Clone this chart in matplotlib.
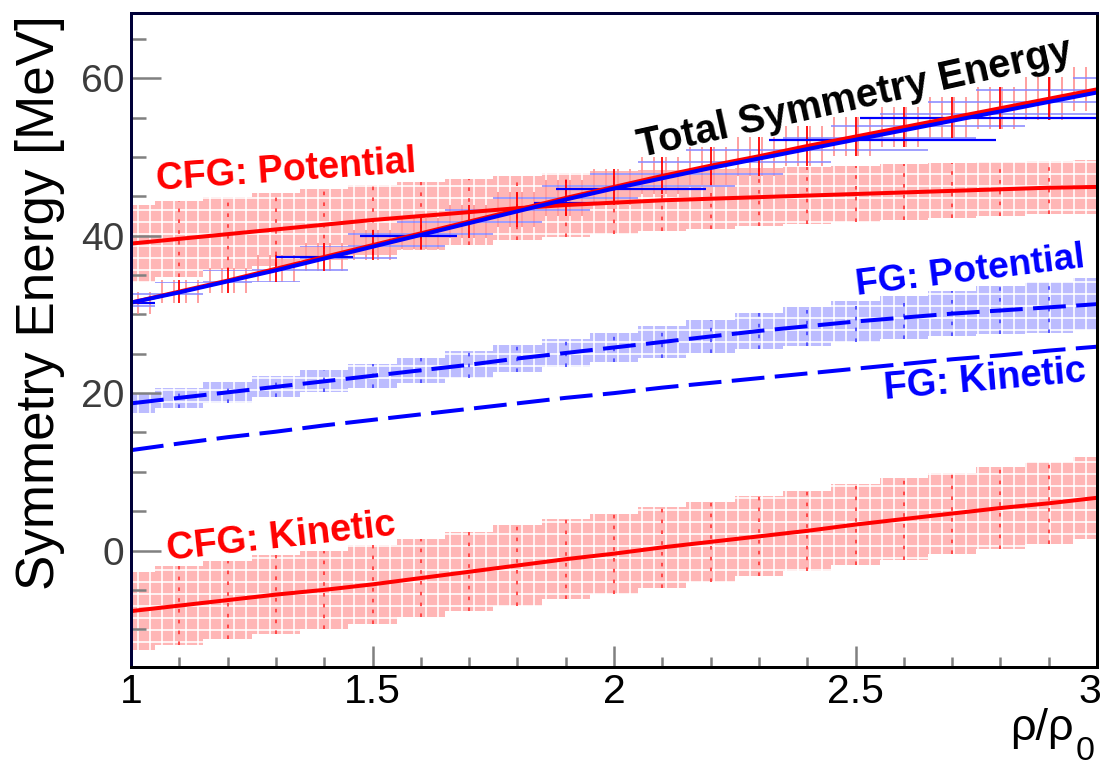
import matplotlib
matplotlib.use("Agg")
import numpy as np
import matplotlib.pyplot as plt
import matplotlib.transforms as mtransforms

plt.rcParams['font.family'] = ['Liberation Sans', 'DejaVu Sans']
plt.rcParams['hatch.linewidth'] = 1.6

# density grid (rho / rho_0)
density = [1.0, 1.1, 1.2, 1.3, 1.4, 1.5, 1.6, 1.7, 1.8, 1.9, 2.0,
           2.1, 2.2, 2.3, 2.4, 2.5, 2.6, 2.7, 2.8, 2.9, 3.0]

# correlated Fermi gas (CFG)
cfg_pot = [39.0, 39.6, 40.2, 40.8, 41.4, 42.0, 42.5, 43.0, 43.5, 43.9, 44.2,
           44.5, 44.7, 44.9, 45.1, 45.3, 45.5, 45.7, 45.9, 46.1, 46.2]
cfg_pot_err = [4.9, 4.8, 4.7, 4.6, 4.5, 4.4, 4.3, 4.2, 4.1, 4.05, 4.0,
               3.9, 3.8, 3.7, 3.65, 3.6, 3.55, 3.5, 3.45, 3.4, 3.4]
cfg_kin = [-7.7, -7.0, -6.3, -5.6, -5.0, -4.3, -3.5, -2.7, -1.9, -1.1, -0.4,
           0.4, 1.1, 1.8, 2.5, 3.3, 4.0, 4.7, 5.4, 6.0, 6.7]
cfg_kin_err = [5.0, 5.0, 5.0, 5.0, 5.0, 5.0, 5.0, 5.0, 5.1, 5.1, 5.1,
               5.1, 5.1, 5.1, 5.1, 5.2, 5.2, 5.2, 5.2, 5.2, 5.2]
cfg_total = [31.5, 32.9, 34.3, 35.8, 37.3, 38.8, 40.3, 41.8, 43.3, 44.8, 46.2,
             47.6, 48.9, 50.1, 51.4, 52.6, 53.8, 55.0, 56.2, 57.4, 58.6]
cfg_total_err = [1.4, 1.5, 1.6, 1.7, 1.8, 1.9, 2.0, 2.1, 2.2, 2.25, 2.3,
                 2.35, 2.4, 2.45, 2.5, 2.5, 2.55, 2.6, 2.7, 2.75, 2.8]

# free Fermi gas (FG)
fg_pot = [18.7, 19.4, 20.1, 20.8, 21.5, 22.2, 22.9, 23.6, 24.4, 25.1, 25.8,
          26.5, 27.2, 27.9, 28.5, 29.1, 29.6, 30.1, 30.5, 30.9, 31.3]
fg_pot_err = [1.2, 1.25, 1.3, 1.35, 1.4, 1.5, 1.6, 1.7, 1.75, 1.8, 1.9,
              2.0, 2.15, 2.3, 2.45, 2.6, 2.75, 2.9, 3.05, 3.2, 3.3]
fg_kin = [12.75, 13.6, 14.4, 15.1, 15.9, 16.6, 17.3, 18.0, 18.7, 19.4, 20.0,
          20.7, 21.3, 21.9, 22.5, 23.1, 23.7, 24.3, 24.8, 25.4, 25.9]
fg_total = [31.5, 32.8, 34.2, 35.6, 37.1, 38.6, 40.1, 41.6, 43.1, 44.6, 46.0,
            47.3, 48.6, 49.8, 51.0, 52.2, 53.4, 54.6, 55.8, 57.0, 58.2]
fg_total_err = [1.2, 1.3, 1.4, 1.5, 1.6, 1.7, 1.8, 1.9, 2.0, 2.1, 2.2,
                2.3, 2.4, 2.5, 2.6, 2.7, 2.75, 2.8, 2.9, 2.95, 3.0]

# FG total points with density uncertainty
fg_pts_x = [1.0, 1.38, 1.575, 1.90, 2.035, 2.555, 2.76]
fg_pts_y = [31.4, 37.3, 40.0, 44.2, 46.0, 52.2, 55.0]
fg_pts_xerr = [0.05, 0.08, 0.10, 0.065, 0.155, 0.235, 0.25]

x_ticks = [1, 1.5, 2, 2.5, 3]
x_ticklabels = ['1', '1.5', '2', '2.5', '3']
y_ticks = [0, 20, 40, 60]
y_ticklabels = ['0', '20', '40', '60']

RED = '#ff0000'
BLUE = '#0000ff'
DPI = 72
W, H = 1104, 767

fig = plt.figure(figsize=(W / DPI, H / DPI), dpi=DPI)
ax = fig.add_axes([131 / W, 1 - 667 / H, (1097 - 131) / W, (667 - 13) / H])

x = np.array(density)


def shaded_band(y, e, face, dots):
    y = np.array(y)
    e = np.array(e)
    ax.fill_between(x, y - e, y + e, step='mid', facecolor=face,
                    edgecolor='white', hatch='+', linewidth=0, zorder=1)
    ax.vlines(x, y - e, y + e, colors=dots, linewidth=1.8,
              linestyles=(0, (2, 4)), zorder=1.5)


shaded_band(cfg_pot, cfg_pot_err, '#ffb6b6', '#ff3c3c')
shaded_band(cfg_kin, cfg_kin_err, '#ffb6b6', '#ff3c3c')
shaded_band(fg_pot, fg_pot_err, '#bcbcff', '#4848ff')

# total symmetry energy bands
ct = np.array(cfg_total)
ce = np.array(cfg_total_err)
ft = np.array(fg_total)
fe = np.array(fg_total_err)
ax.fill_between(x, ct - ce, ct + ce, step='mid', facecolor='none',
                edgecolor='#ff8a8a', hatch='|', linewidth=0, zorder=2)
ax.fill_between(x, ft - fe, ft + fe, step='mid', facecolor='none',
                edgecolor='#8a8aff', hatch='-', linewidth=0, zorder=2.1)
ax.errorbar(x, ct, yerr=ce, fmt='none', ecolor=RED, elinewidth=1.8,
            capsize=0, zorder=2.5)
ax.errorbar(fg_pts_x, fg_pts_y, xerr=fg_pts_xerr, fmt='none', ecolor=BLUE,
            elinewidth=2.2, capsize=0, zorder=2.6)

# central curves
ax.plot(x, cfg_pot, color=RED, lw=4, zorder=3)
ax.plot(x, cfg_kin, color=RED, lw=4, zorder=3)
ax.plot(x, cfg_total, color=RED, lw=4, zorder=3)
ax.plot(x, fg_total, color=BLUE, lw=4, zorder=3.1)
ax.plot(x, fg_pot, color=BLUE, lw=4, dashes=(8.2, 2.6), zorder=3)
ax.plot(x, fg_kin, color=BLUE, lw=4, dashes=(8.2, 2.6), zorder=3)

# curve labels
lab = dict(ha='left', va='baseline', rotation_mode='anchor',
           fontweight='bold', zorder=5)
ax.text(1.054, 45.8, 'CFG: Potential', color=RED, fontsize=37.5,
        rotation=4, **lab)
ax.text(2.055, 50.0, 'Total Symmetry Energy', color='black', fontsize=40,
        rotation=12.5, **lab)
ax.text(2.503, 32.5, 'FG: Potential', color=BLUE, fontsize=37,
        rotation=7, **lab)
ax.text(2.561, 19.3, 'FG: Kinetic', color=BLUE, fontsize=38,
        rotation=5, **lab)
ax.text(1.077, -1.2, 'CFG: Kinetic', color=RED, fontsize=38,
        rotation=6.3, **lab)

ax.set_xlim(1, 3)
ax.set_ylim(-14.8, 68.3)

ax.set_xticks(x_ticks)
ax.set_xticklabels(x_ticklabels)
ax.set_yticks(y_ticks)
ax.set_yticklabels(y_ticklabels)
ax.xaxis.set_minor_locator(matplotlib.ticker.MultipleLocator(0.1))
ax.yaxis.set_minor_locator(matplotlib.ticker.MultipleLocator(5))

ax.tick_params(which='both', direction='in', color='#808080', width=2.5,
               top=False, right=False)
ax.tick_params(axis='x', which='major', length=21, labelsize=41, pad=6,
               labelcolor='black')
ax.tick_params(axis='x', which='minor', length=10)
ax.tick_params(axis='y', which='major', length=30, labelsize=39, pad=7,
               labelcolor='#3c3c3c')
ax.tick_params(axis='y', which='minor', length=15)

# keep the last x tick label inside the canvas
last = ax.get_xticklabels()[-1]
last.set_transform(last.get_transform() +
                   mtransforms.ScaledTranslation(-7 / DPI, 0, fig.dpi_scale_trans))

for side in ['left', 'top']:
    ax.spines[side].set_color('#000038')
for side in ['bottom', 'right']:
    ax.spines[side].set_color('black')
for s in ax.spines.values():
    s.set_linewidth(3)
    s.set_zorder(6)

fig.text(40 / W, 1 - 15 / H, 'Symmetry Energy [MeV]', rotation=90,
         ha='center', va='top', fontsize=53)
fig.text(1074 / W, 1 - 740 / H, 'ρ/ρ', ha='right', va='baseline',
         fontsize=45)
fig.text(1076 / W, 0.0, '0', ha='left', va='bottom', fontsize=34)

fig.savefig('out.png', dpi=DPI)
